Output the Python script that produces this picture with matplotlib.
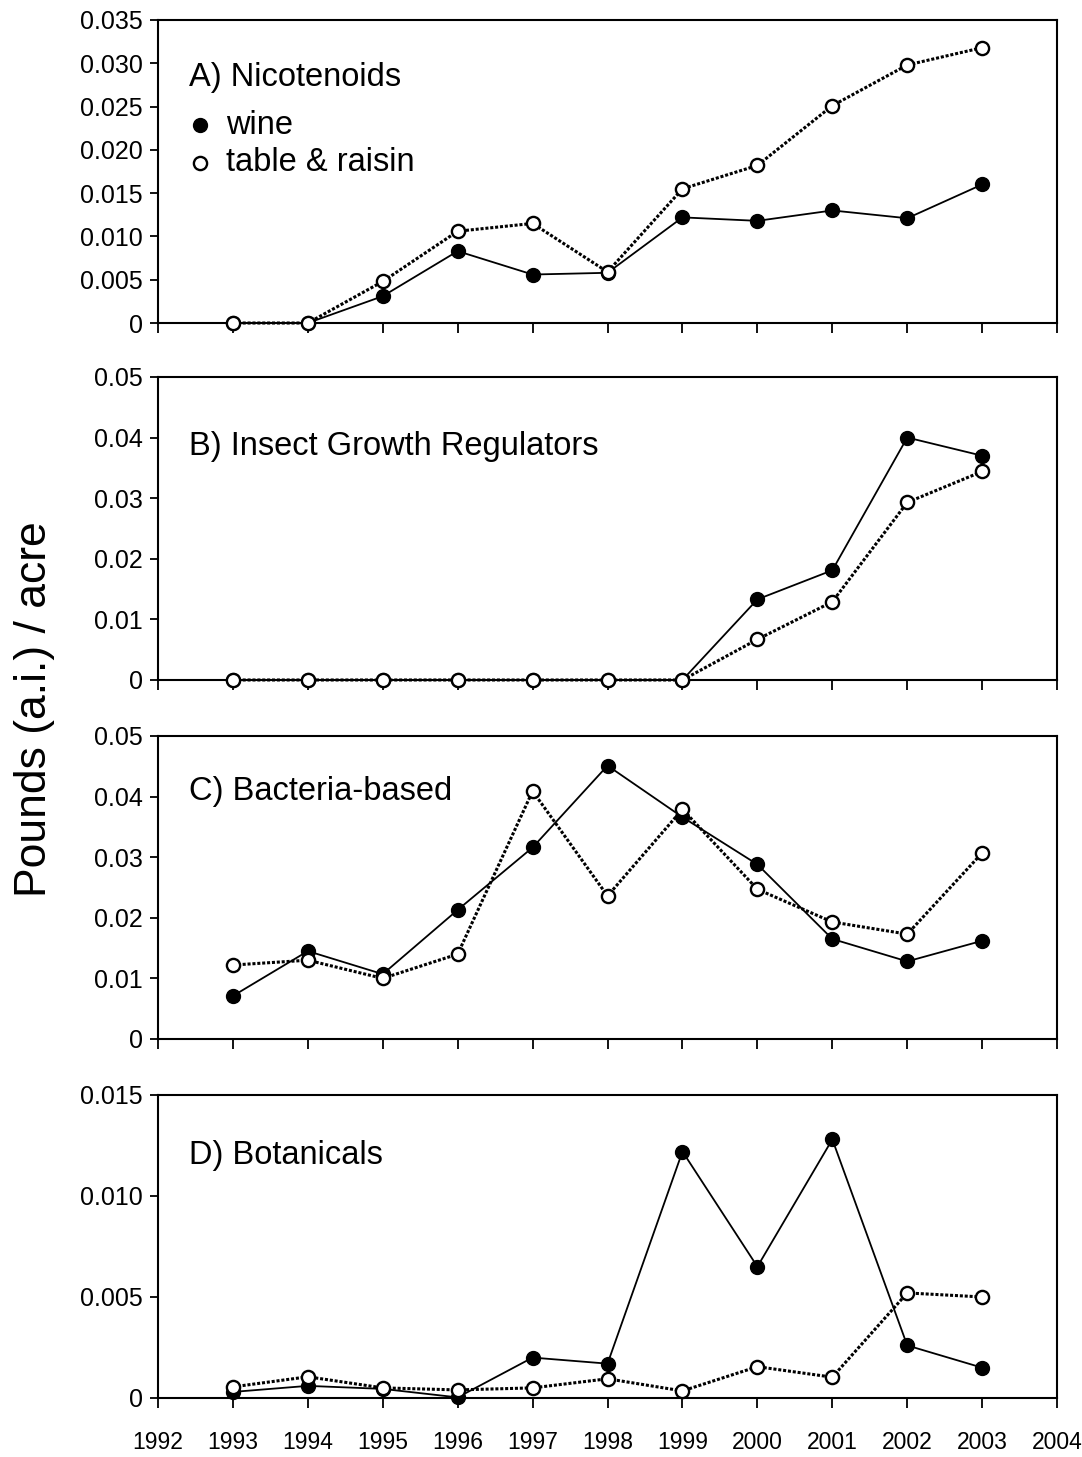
import matplotlib
matplotlib.use('Agg')
import matplotlib.pyplot as plt
import numpy as np

plt.rcParams['font.family'] = ['Liberation Sans', 'DejaVu Sans']

years = [1993, 1994, 1995, 1996, 1997, 1998, 1999, 2000, 2001, 2002, 2003]
year_ticks = list(range(1992, 2005))

# A) Nicotenoids
nico_wine = [0.0, 0.0, 0.0031, 0.0083, 0.0056, 0.0058, 0.0122, 0.0118, 0.0130, 0.0121, 0.0160]
nico_table = [0.0, 0.0, 0.0048, 0.0106, 0.0115, 0.0059, 0.0155, 0.0182, 0.0251, 0.0298, 0.0318]

# B) Insect Growth Regulators
igr_wine = [0.0, 0.0, 0.0, 0.0, 0.0, 0.0, 0.0, 0.0133, 0.0181, 0.0400, 0.0370]
igr_table = [0.0, 0.0, 0.0, 0.0, 0.0, 0.0, 0.0, 0.0067, 0.0129, 0.0293, 0.0344]

# C) Bacteria-based
bact_wine = [0.0071, 0.0145, 0.0107, 0.0213, 0.0316, 0.0451, 0.0366, 0.0288, 0.0165, 0.0128, 0.0162]
bact_table = [0.0122, 0.0130, 0.0100, 0.0140, 0.0409, 0.0236, 0.0379, 0.0247, 0.0193, 0.0173, 0.0307]

# D) Botanicals
bot_wine = [0.0003, 0.0006, 0.00045, 0.00003, 0.0020, 0.0017, 0.0122, 0.0065, 0.0128, 0.0026, 0.0015]
bot_table = [0.00055, 0.00105, 0.0005, 0.0004, 0.0005, 0.00095, 0.00035, 0.00155, 0.00103, 0.0052, 0.0050]

panels = [
    ('A) Nicotenoids', nico_wine, nico_table, 0.035, np.arange(0, 0.0351, 0.005), '%.3f'),
    ('B) Insect Growth Regulators', igr_wine, igr_table, 0.05, np.arange(0, 0.051, 0.01), '%.2f'),
    ('C) Bacteria-based', bact_wine, bact_table, 0.05, np.arange(0, 0.051, 0.01), '%.2f'),
    ('D) Botanicals', bot_wine, bot_table, 0.015, np.arange(0, 0.0151, 0.005), '%.3f'),
]
label_y = [0.81, 0.77, 0.815, 0.80]

fig = plt.figure(figsize=(10.82, 14.57), dpi=100)
left, width, height = 0.146, 0.831, 0.208
bottoms = [0.7783, 0.5333, 0.2869, 0.0405]

for i, (title, wine, table, ymax, yt, fmt) in enumerate(panels):
    ax = fig.add_axes([left, bottoms[i], width, height])
    ax.plot(years, wine, '-', color='black', lw=1.3, marker='o', ms=10,
            mfc='black', mec='black', clip_on=False, zorder=3, label='wine')
    ax.plot(years, table, color='black', lw=2.2, ls=(0, (1.0, 0.6)), marker='o', ms=9.5,
            mfc='white', mec='black', mew=1.7, clip_on=False, zorder=4,
            label='table & raisin')
    ax.set_xlim(1992, 2004)
    ax.set_ylim(0, ymax)
    ax.set_xticks(year_ticks)
    ax.set_yticks(yt)
    ax.set_yticklabels(['0'] + [fmt % v for v in yt[1:]])
    ax.tick_params(axis='y', direction='out', length=6, width=1.3, labelsize=18, pad=5)
    ax.tick_params(axis='x', direction='out', length=7, width=1.3, pad=17)
    if i < 3:
        ax.set_xticklabels([])
    else:
        ax.set_xticklabels([str(y) for y in year_ticks], fontsize=16.5)
    for s in ax.spines.values():
        s.set_linewidth(1.5)
    ax.text(0.034, label_y[i], title, transform=ax.transAxes, fontsize=23.5, va='center', ha='left')
    if i == 0:
        ax.plot([0.047], [0.652], 'o', color='black', ms=10, transform=ax.transAxes)
        ax.plot([0.047], [0.529], 'o', mfc='white', mec='black', mew=1.7, ms=9.5,
                transform=ax.transAxes)
        ax.text(0.0756, 0.652, 'wine', transform=ax.transAxes, fontsize=23.5, va='center')
        ax.text(0.0756, 0.529, 'table & raisin', transform=ax.transAxes, fontsize=23.5, va='center')

fig.text(0.032, 0.513, 'Pounds (a.i.) / acre', rotation=90, fontsize=32, va='center', ha='center')

fig.savefig('out.png', dpi=100)
